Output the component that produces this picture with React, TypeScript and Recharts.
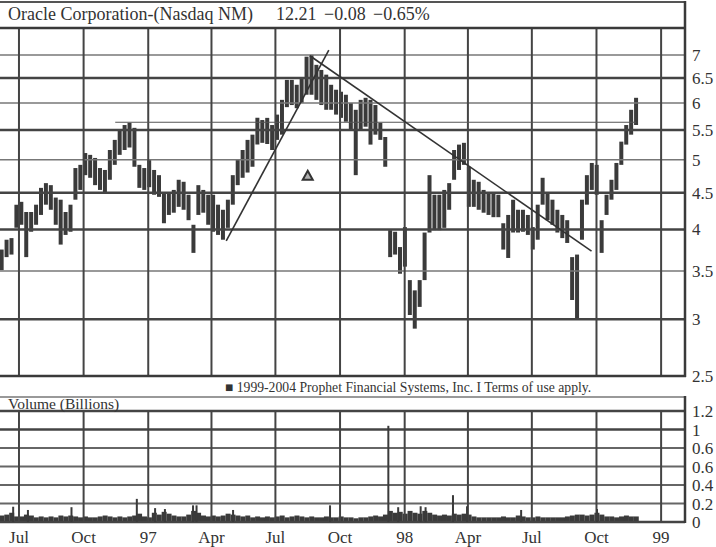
import React from "react";
import { Bar, ComposedChart, ReferenceDot, ReferenceLine, XAxis, YAxis } from "recharts";

// days are counted from 1 Jul 1996; one bar per trading week
const firstWeekDay = -24;

const weeklyHigh = [
  3.75, 3.87, 3.89, 4.33, 4.37, 4.23, 4.23, 4.33, 4.57, 4.64, 4.61, 4.43, 4.4, 4.23, 4.33, 4.87, 4.92, 5.11, 5.08, 5.03,
  4.87, 4.84, 5.16, 5.33, 5.5, 5.59, 5.63, 5.54, 4.92, 4.87, 5.0, 4.84, 4.76, 4.5, 4.5, 4.54, 4.69, 4.66, 4.47, 4.06,
  4.61, 4.54, 4.47, 4.47, 4.33, 4.26, 4.4, 4.76, 5.0, 5.16, 5.33, 5.42, 5.72, 5.68, 5.72, 5.59, 5.78, 6.06, 6.46, 6.46,
  6.36, 6.5, 6.96, 7.0, 6.78, 6.67, 6.57, 6.36, 6.26, 6.22, 6.16, 6.0, 5.87, 6.06, 6.1, 6.06, 5.96, 5.63, 5.38, 3.99,
  3.97, 3.78, 4.03, 3.4, 3.29, 3.4, 3.96, 4.76, 4.47, 4.47, 4.54, 4.64, 5.16, 5.25, 5.28, 4.89, 4.69, 4.66, 4.54, 4.5,
  4.5, 4.47, 4.08, 4.19, 4.4, 4.26, 4.26, 4.19, 4.03, 4.33, 4.72, 4.5, 4.4, 4.26, 4.19, 4.12, 3.66, 3.69, 4.4, 4.76,
  4.95, 4.92, 4.12, 4.47, 4.69, 4.95, 5.3, 5.59, 5.87, 6.1,
];

const weeklyLow = [
  3.51, 3.66, 3.69, 4.02, 4.06, 3.66, 3.97, 4.06, 4.19, 4.33, 4.26, 4.06, 3.81, 3.93, 3.97, 4.4, 4.54, 4.76, 4.72, 4.61,
  4.54, 4.5, 4.69, 4.92, 5.08, 5.16, 5.2, 4.89, 4.57, 4.54, 4.58, 4.47, 4.44, 4.08, 4.19, 4.22, 4.3, 4.26, 4.12, 3.71,
  4.19, 4.22, 4.06, 3.97, 3.93, 3.87, 4.02, 4.33, 4.61, 4.72, 4.8, 4.89, 5.25, 5.28, 5.26, 5.16, 5.33, 5.42, 5.92, 5.96,
  5.9, 6.0, 6.16, 6.16, 6.06, 5.96, 5.87, 5.87, 5.78, 5.72, 5.65, 5.5, 4.76, 5.5, 5.56, 5.25, 5.42, 5.33, 4.89, 3.66,
  3.69, 3.47, 3.55, 3.04, 2.91, 3.12, 3.4, 3.96, 3.99, 3.99, 4.02, 4.26, 4.69, 4.84, 4.92, 4.3, 4.3, 4.26, 4.22, 4.19,
  4.16, 4.16, 3.75, 3.65, 3.96, 3.96, 3.97, 3.93, 3.75, 3.87, 4.33, 4.12, 4.06, 3.96, 3.89, 3.83, 3.19, 3.01, 3.87, 4.33,
  4.54, 4.47, 3.71, 4.19, 4.4, 4.54, 4.92, 5.25, 5.42, 5.59,
];

// typical daily volume in each week, billions of shares
const weeklyVolume = [
  0.07, 0.08, 0.1, 0.06, 0.06, 0.08, 0.07, 0.05, 0.06, 0.05, 0.06, 0.05, 0.07, 0.06, 0.07, 0.06, 0.05, 0.06, 0.05, 0.05,
  0.06, 0.07, 0.06, 0.05, 0.06, 0.05, 0.06, 0.07, 0.09, 0.06, 0.05, 0.1, 0.08, 0.11, 0.09, 0.07, 0.06, 0.06, 0.08, 0.12,
  0.1, 0.07, 0.06, 0.07, 0.06, 0.07, 0.09, 0.08, 0.07, 0.06, 0.07, 0.05, 0.06, 0.05, 0.06, 0.05, 0.06, 0.07, 0.05, 0.06,
  0.07, 0.06, 0.05, 0.06, 0.05, 0.05, 0.06, 0.05, 0.05, 0.06, 0.05, 0.05, 0.04, 0.05, 0.05, 0.06, 0.07, 0.06, 0.08, 0.12,
  0.1, 0.11, 0.09, 0.12, 0.1, 0.09, 0.12, 0.1, 0.08, 0.07, 0.08, 0.07, 0.09, 0.08, 0.09, 0.08, 0.06, 0.05, 0.05, 0.05,
  0.05, 0.05, 0.06, 0.05, 0.05, 0.07, 0.06, 0.05, 0.05, 0.06, 0.05, 0.05, 0.05, 0.05, 0.05, 0.06, 0.07, 0.08, 0.08, 0.07,
  0.08, 0.1, 0.08, 0.06, 0.06, 0.05, 0.06, 0.07, 0.06, 0.06,
];

// single heavy-volume days
const spikeDays = [-8, 13, 75, 168, 194, 208, 248, 253, 305, 443, 526, 540, 572, 579, 618, 638, 715, 823];
const spikeVolume = [0.165, 0.13, 0.16, 0.25, 0.15, 0.14, 0.18, 0.18, 0.13, 0.18, 1.04, 0.16, 0.17, 0.16, 0.29, 0.17, 0.13, 0.14];

const quarterDays = [0, 92, 184, 274, 365, 457, 549, 639, 730, 822, 914];
const quarterLabels = ["Jul", "Oct", "97", "Apr", "Jul", "Oct", "98", "Apr", "Jul", "Oct", "99"];

const priceTicks = [2.5, 3, 3.5, 4, 4.5, 5, 5.5, 6, 6.5, 7];
const priceGrid = [3, 3.5, 4, 4.5, 5, 5.5, 6, 6.5, 7];
const heavyPriceLines = [3, 4, 4.5, 5.5, 6.5];

const volumeTicks = [0, 0.2, 0.4, 0.6, 0.8, 1, 1.2];
const volumeTickLabels = ["0", "0.2", "0.4", "0.6", "0.6", "1", "1.2"];

// hand-drawn studies on the chart
const upTrend = [{ x: 295, y: 3.855 }, { x: 441, y: 7.11 }];
const downTrend = [{ x: 414, y: 6.98 }, { x: 815, y: 3.73 }];
const resistance = [{ x: 137, y: 5.64 }, { x: 878, y: 5.64 }];
const marker = { x: 411, y: 4.75 };

const dayDomain = [-27, 948];
const serif = '"Liberation Serif", "DejaVu Serif", serif';
const ink = "#3a3a3a";

const priceData = weeklyHigh.map((high, i) => ({
  day: firstWeekDay + 7 * i,
  range: [weeklyLow[i], high],
}));

const weekVolumeData = weeklyVolume.map((v, i) => ({ day: firstWeekDay + 7 * i, vol: v }));
const spikeData = spikeDays.map((d, i) => ({ day: d, spike: spikeVolume[i] }));

const Triangle = (props: any) => {
  const { cx, cy } = props;
  return (
    <path
      d={`M${cx},${cy - 5} L${cx + 5},${cy + 4} L${cx - 5},${cy + 4} Z`}
      fill="#b0b0b0"
      stroke="#333"
      strokeWidth={2}
    />
  );
};

// fixed-width column centred on the bar's slot
const column = (w: number) => (props: any) => {
  const { x, y, width, height } = props;
  if (!height || height <= 0) return null;
  return <rect x={x + width / 2 - w / 2} y={y} width={w} height={height} fill={ink} />;
};
const WeekBar = column(5);
const SpikeBar = column(2);

const axisTick = { fill: "#333", fontSize: 17, fontFamily: serif, textAnchor: "start" };

function VolumePanel({ data, dataKey, shape, showAxes }: any) {
  return (
    <ComposedChart width={716} height={150} data={data} margin={{ top: 14, right: 0, bottom: 0, left: 0 }}>
      <XAxis
        dataKey="day"
        type="number"
        domain={dayDomain}
        allowDataOverflow
        ticks={quarterDays}
        interval={0}
        tickFormatter={(v) => (showAxes ? quarterLabels[quarterDays.indexOf(v)] : "")}
        axisLine={false}
        tickLine={false}
        tickSize={0}
        tickMargin={9}
        height={25}
        tick={{ fill: "#333", fontSize: 17, fontFamily: serif }}
      />
      <YAxis
        orientation="right"
        domain={[0, 1.2]}
        allowDataOverflow
        ticks={volumeTicks}
        interval={0}
        tickFormatter={(v) => (showAxes ? volumeTickLabels[volumeTicks.indexOf(v)] : "")}
        width={31}
        axisLine={false}
        tickLine={false}
        tickSize={0}
        tickMargin={7}
        tick={axisTick}
      />
      {showAxes &&
        volumeTicks.map((v) => (
          <ReferenceLine key={"hv" + v} y={v} stroke={v >= 1 || v === 0 ? "#444" : "#666"} strokeWidth={v >= 1 || v === 0 ? 2.5 : 1.8} />
        ))}
      {showAxes && quarterDays.map((d) => <ReferenceLine key={"vv" + d} x={d} stroke="#444" strokeWidth={2} />)}
      <Bar dataKey={dataKey} fill={ink} barSize={5} shape={shape} isAnimationActive={false} />
    </ComposedChart>
  );
}

export default function App() {
  return (
    <div style={{ position: "absolute", left: 0, top: 0, width: 716, height: 547, background: "#fff", fontFamily: serif, color: "#333", overflow: "hidden" }}>
      <div style={{ position: "absolute", left: 0, top: 0 }}>
        <ComposedChart width={716} height={392} data={priceData} margin={{ top: 28, right: 0, bottom: 16, left: 0 }}>
          <XAxis dataKey="day" type="number" domain={dayDomain} allowDataOverflow hide />
          <YAxis
            orientation="right"
            scale="log"
            domain={[2.5, 7.63]}
            allowDataOverflow
            ticks={priceTicks}
            interval={0}
            width={31}
            axisLine={false}
            tickLine={false}
            tickSize={0}
            tickMargin={7}
            tick={axisTick}
          />
          {priceGrid.map((v) => (
            <ReferenceLine key={"h" + v} y={v} stroke={heavyPriceLines.includes(v) ? "#444" : "#777"} strokeWidth={heavyPriceLines.includes(v) ? 2.5 : 1.5} />
          ))}
          {quarterDays.map((d) => (
            <ReferenceLine key={"v" + d} x={d} stroke="#444" strokeWidth={2} />
          ))}
          <ReferenceLine segment={resistance} stroke="#555" strokeWidth={1.2} />
          <ReferenceLine segment={upTrend} stroke="#333" strokeWidth={1.6} />
          <ReferenceLine segment={downTrend} stroke="#333" strokeWidth={1.6} />
          <Bar dataKey="range" fill={ink} barSize={4} isAnimationActive={false} />
          <ReferenceDot x={marker.x} y={marker.y} shape={Triangle} />
        </ComposedChart>
      </div>

      <div style={{ position: "absolute", left: 0, top: 397 }}>
        <VolumePanel data={weekVolumeData} dataKey="vol" shape={WeekBar} showAxes />
      </div>
      <div style={{ position: "absolute", left: 0, top: 397 }}>
        <VolumePanel data={spikeData} dataKey="spike" shape={SpikeBar} showAxes={false} />
      </div>

      <svg width={716} height={547} style={{ position: "absolute", left: 0, top: 0, pointerEvents: "none" }}>
        <line x1={0} y1={2} x2={686} y2={2} stroke="#555" strokeWidth={2} />
        <line x1={0} y1={28} x2={686} y2={28} stroke={ink} strokeWidth={2.5} />
        <line x1={0} y1={376} x2={686} y2={376} stroke={ink} strokeWidth={2.5} />
        <line x1={685} y1={1} x2={685} y2={377} stroke={ink} strokeWidth={2.5} />
        <line x1={0} y1={397} x2={686} y2={397} stroke="#777" strokeWidth={1.5} />
        <line x1={685} y1={396} x2={685} y2={523} stroke={ink} strokeWidth={2.5} />
      </svg>

      <div style={{ position: "absolute", left: 8, top: 4, fontSize: 18, lineHeight: "20px", whiteSpace: "nowrap" }}>
        Oracle Corporation-(Nasdaq NM)
      </div>
      <div style={{ position: "absolute", left: 276, top: 4, fontSize: 18, lineHeight: "20px" }}>12.21</div>
      <div style={{ position: "absolute", left: 324, top: 4, fontSize: 18, lineHeight: "20px" }}>−0.08</div>
      <div style={{ position: "absolute", left: 373, top: 4, fontSize: 18, lineHeight: "20px" }}>−0.65%</div>

      <div style={{ position: "absolute", left: 225, top: 380, fontSize: 13.7, lineHeight: "16px", whiteSpace: "nowrap" }}>
        ■ 1999-2004 Prophet Financial Systems, Inc. I Terms of use apply.
      </div>
      <div style={{ position: "absolute", left: 8, top: 396, fontSize: 15.5, lineHeight: "16px", whiteSpace: "nowrap" }}>
        Volume (Billions)
      </div>
    </div>
  );
}
